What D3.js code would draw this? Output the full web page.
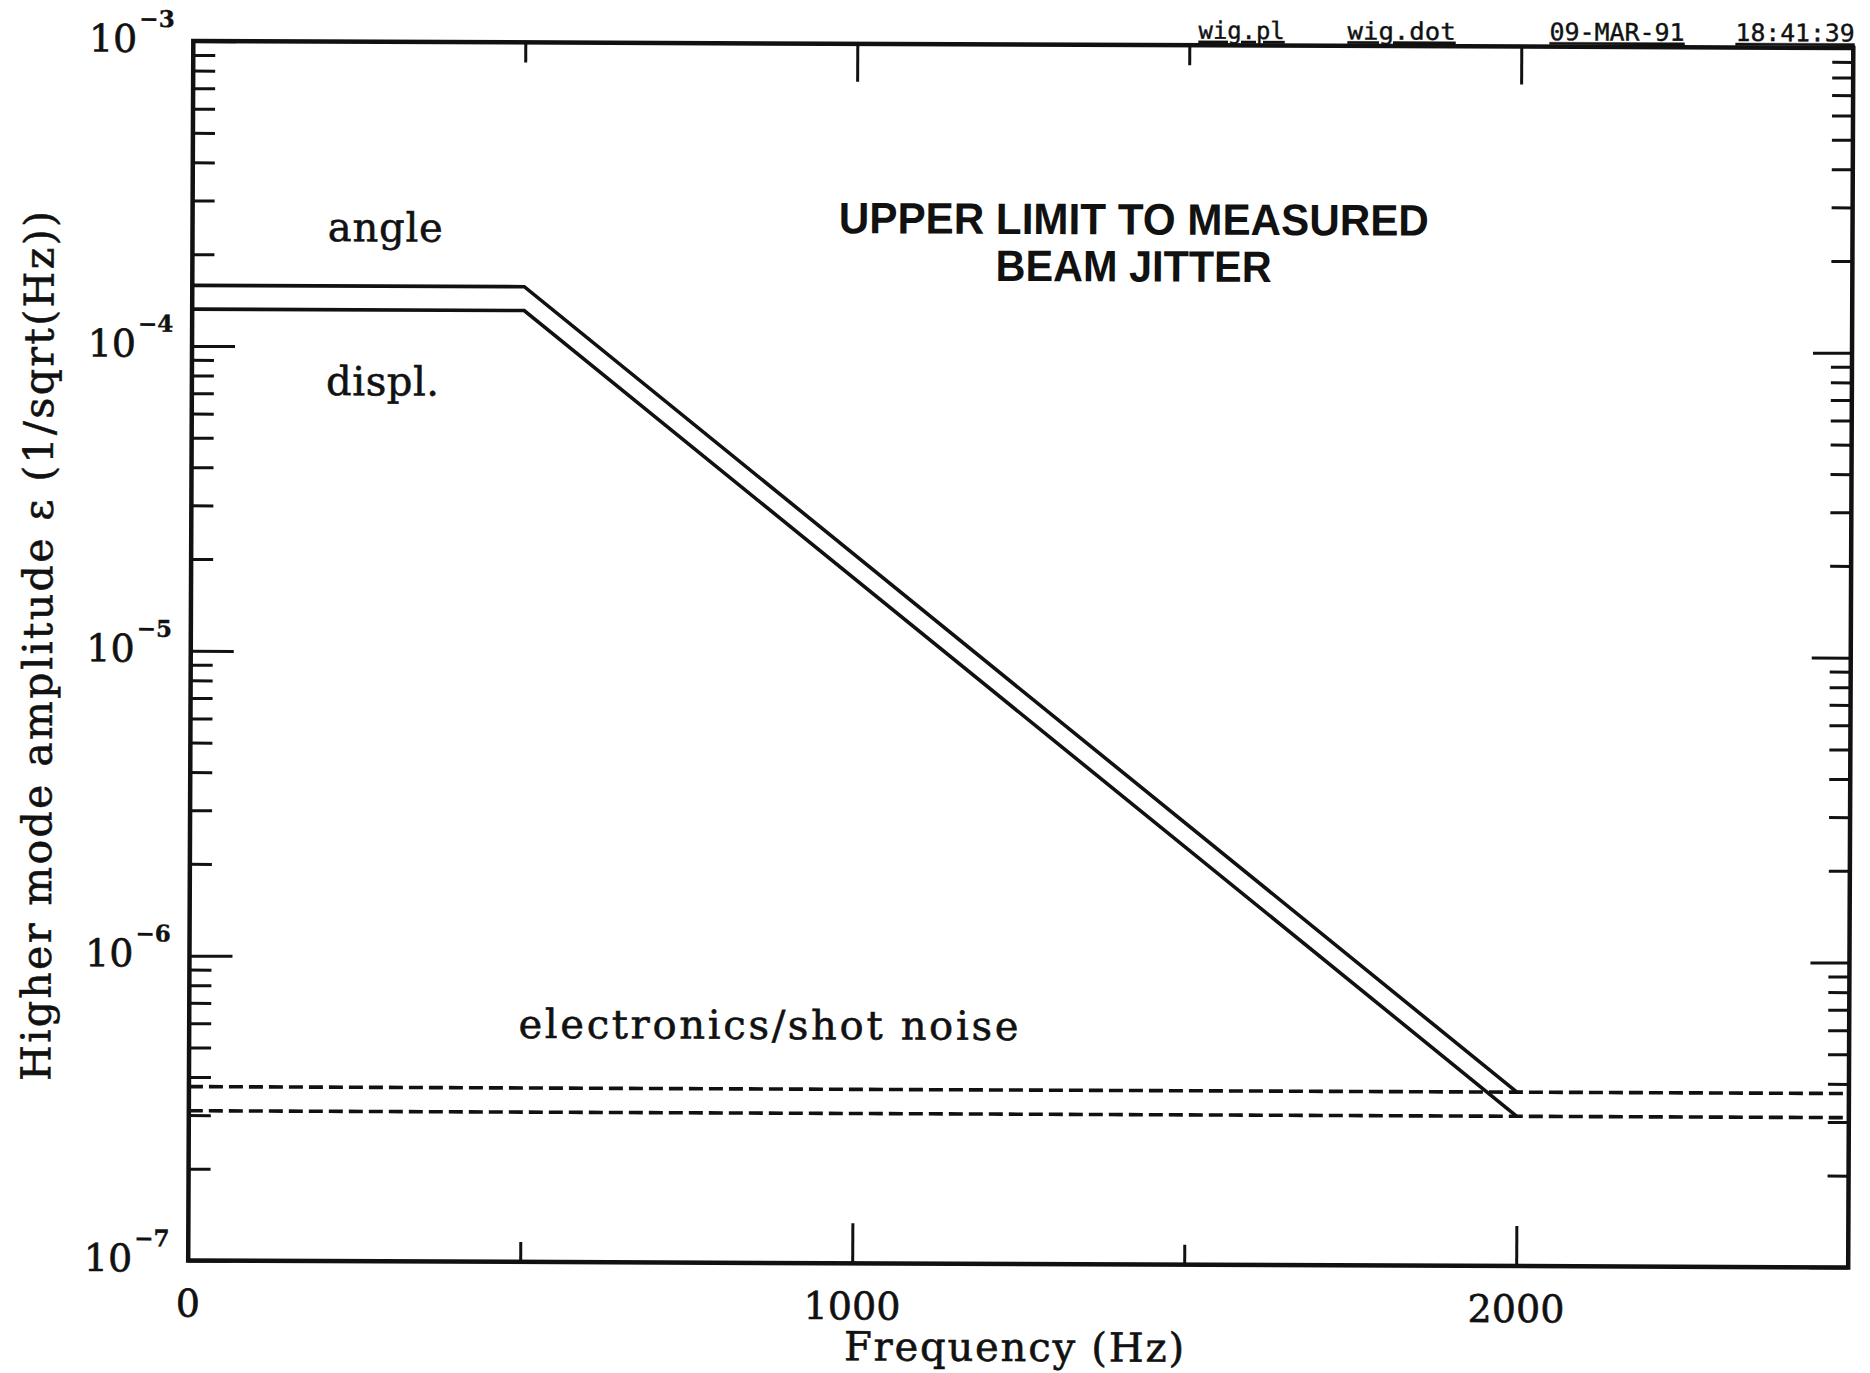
<!DOCTYPE html>
<html>
<head>
<meta charset="utf-8">
<script src="https://cdn.jsdelivr.net/npm/d3@7"></script>
<style>
  body { margin: 0; background: #fff; }
  svg { display: block; }
</style>
</head>
<body>
<div id="chart"></div>
<script>
// curves (frequency in Hz, amplitude in 1/sqrt(Hz))
const angleFreq = [0, 500, 2000];
const angleAmp = [1.58e-4, 1.58e-4, 3.72e-7];
const displFreq = [0, 500, 2000];
const displAmp = [1.32e-4, 1.32e-4, 3.1e-7];
const noiseFreq = [0, 2500];
const noiseUpperAmp = [3.72e-7, 3.72e-7];
const noiseLowerAmp = [3.1e-7, 3.1e-7];

const xTickLabels = [0, 1000, 2000];
const xMajorTicks = [1000, 2000];
const xMinorTicks = [500, 1500];
const yDecades = [1e-3, 1e-4, 1e-5, 1e-6, 1e-7];
const yExponents = ["\u22123", "\u22124", "\u22125", "\u22126", "\u22127"];

const W = 1870, H = 1373;
const margin = { left: 190.75, top: 44.5 };
const width = 1660, height = 1219.5;
const skew = 0.24; // the scanned page is slightly rotated

const svg = d3.select("#chart").append("svg")
  .attr("width", W)
  .attr("height", H)
  .style("background", "#fff");

const cx = margin.left + width / 2, cy = margin.top + height / 2;
const page = svg.append("g").attr("transform", `rotate(${skew},${cx},${cy})`);
const g = page.append("g").attr("transform", `translate(${margin.left},${margin.top})`);

const x = d3.scaleLinear().domain([0, 2500]).range([0, width]);
const y = d3.scaleLog().domain([1e-7, 1e-3]).range([height, 0]);

const serif = "'DejaVu Serif', 'Liberation Serif', serif";
const ink = "#111";

// minor log ticks (2..9 in every decade)
const yMinor = y.ticks().filter(v => !yDecades.some(d => Math.abs(v - d) / d < 1e-6));

function styleAxis(sel, w) {
  sel.select(".domain").remove();
  sel.selectAll(".tick line").attr("stroke", ink).attr("stroke-width", w);
  sel.selectAll(".tick text").remove();
}

// scanned text looks a little heavier than the font
function inked(sel, w) {
  sel.attr("fill", ink).attr("stroke", ink).attr("stroke-width", w || 0.5);
}

g.append("g").call(d3.axisLeft(y).tickValues(yMinor).tickSize(-22).tickFormat("")).call(styleAxis, 3);
g.append("g").call(d3.axisLeft(y).tickValues(yDecades).tickSize(-43).tickFormat("")).call(styleAxis, 3);
g.append("g").attr("transform", `translate(${width},0)`)
  .call(d3.axisRight(y).tickValues(yMinor).tickSize(-21).tickFormat("")).call(styleAxis, 3);
g.append("g").attr("transform", `translate(${width},0)`)
  .call(d3.axisRight(y).tickValues(yDecades).tickSize(-39).tickFormat("")).call(styleAxis, 3);

g.append("g").call(d3.axisTop(x).tickValues(xMinorTicks).tickSize(-20).tickFormat("")).call(styleAxis, 3);
g.append("g").call(d3.axisTop(x).tickValues(xMajorTicks).tickSize(-38).tickFormat("")).call(styleAxis, 3);
g.append("g").attr("transform", `translate(0,${height})`)
  .call(d3.axisBottom(x).tickValues(xMinorTicks).tickSize(-20).tickFormat("")).call(styleAxis, 3);
g.append("g").attr("transform", `translate(0,${height})`)
  .call(d3.axisBottom(x).tickValues(xMajorTicks).tickSize(-40).tickFormat("")).call(styleAxis, 3);

// frame
g.append("rect")
  .attr("x", 0).attr("y", 0)
  .attr("width", width).attr("height", height)
  .attr("fill", "none")
  .attr("stroke", ink)
  .attr("stroke-width", 4.5);

// y tick labels: 10 with a raised exponent
const yLab = g.append("g").selectAll("g").data(yDecades).enter().append("g")
  .attr("transform", d => `translate(0,${y(d)})`);
yLab.append("text")
  .attr("x", -56).attr("y", 11)
  .attr("text-anchor", "end")
  .style("font-family", serif)
  .style("font-size", "38px")
  .call(inked, 0.6)
  .text("10");
yLab.append("text")
  .attr("x", -54).attr("y", -14)
  .style("font-family", serif)
  .style("font-size", "23px")
  .style("font-weight", "bold")
  .call(inked, 0.4)
  .text((d, i) => yExponents[i]);

// x tick labels
g.append("g").selectAll("text").data(xTickLabels).enter().append("text")
  .attr("x", d => x(d))
  .attr("y", height + 56)
  .attr("text-anchor", "middle")
  .style("font-family", serif)
  .style("font-size", "38px")
  .call(inked, 0.6)
  .text(d => d);

// axis titles
g.append("text")
  .attr("x", 1017 - margin.left)
  .attr("y", height + 97)
  .attr("text-anchor", "middle")
  .attr("textLength", 340)
  .attr("lengthAdjust", "spacing")
  .style("font-family", serif)
  .style("font-size", "40px")
  .call(inked, 0.6)
  .text("Frequency (Hz)");

g.append("text")
  .attr("transform", `translate(${52 - margin.left},${650 - margin.top}) rotate(-90)`)
  .attr("text-anchor", "middle")
  .attr("textLength", 870)
  .attr("lengthAdjust", "spacing")
  .style("font-family", serif)
  .style("font-size", "41px")
  .call(inked, 0.6)
  .text("Higher mode amplitude \u03b5 (1/sqrt(Hz))");

// curves
const line = d3.line().x(d => x(d[0])).y(d => y(d[1]));

g.append("path")
  .datum(d3.zip(angleFreq, angleAmp))
  .attr("d", line)
  .attr("fill", "none").attr("stroke", ink).attr("stroke-width", 3.6)
  .attr("stroke-linejoin", "miter");

g.append("path")
  .datum(d3.zip(displFreq, displAmp))
  .attr("d", line)
  .attr("fill", "none").attr("stroke", ink).attr("stroke-width", 3.6)
  .attr("stroke-linejoin", "miter");

[noiseUpperAmp, noiseLowerAmp].forEach(amp => {
  g.append("path")
    .datum(d3.zip(noiseFreq, amp))
    .attr("d", line)
    .attr("fill", "none").attr("stroke", ink).attr("stroke-width", 3.6)
    .attr("stroke-dasharray", "14,6");
});

// annotations
function note(txt, px, py, len) {
  g.append("text")
    .attr("x", px - margin.left)
    .attr("y", py - margin.top)
    .attr("textLength", len)
    .attr("lengthAdjust", "spacing")
    .style("font-family", serif)
    .style("font-size", "40px")
    .call(inked, 0.6)
    .text(txt);
}
note("angle", 326, 244, 115);
note("displ.", 325, 398, 113);
note("electronics/shot noise", 520, 1040, 500);

// title
const sans = "'Liberation Sans Narrow', 'Liberation Sans', Arial, sans-serif";
[["UPPER LIMIT TO MEASURED", 234, 590], ["BEAM JITTER", 281, 276]].forEach(([t, py, len]) => {
  g.append("text")
    .attr("x", 1132 - margin.left)
    .attr("y", py - margin.top)
    .attr("text-anchor", "middle")
    .attr("textLength", len)
    .attr("lengthAdjust", "spacingAndGlyphs")
    .style("font-family", sans)
    .style("font-size", "44px")
    .style("font-weight", "bold")
    .attr("fill", ink)
    .text(t);
});

// plotter header
const mono = "'DejaVu Sans Mono', 'Liberation Mono', monospace";
[["wig.pl", 1196, 86], ["wig.dot", 1345, 108], ["09-MAR-91", 1547, 135], ["18:41:39", 1733, 119]]
  .forEach(([t, px, len]) => {
    g.append("text")
      .attr("x", px - margin.left)
      .attr("y", 38 - margin.top)
      .attr("textLength", len)
      .attr("lengthAdjust", "spacingAndGlyphs")
      .style("font-family", mono)
      .style("font-size", "24px")
      .style("text-decoration", "underline")
      .call(inked, 0.4)
      .text(t);
  });
</script>
</body>
</html>
